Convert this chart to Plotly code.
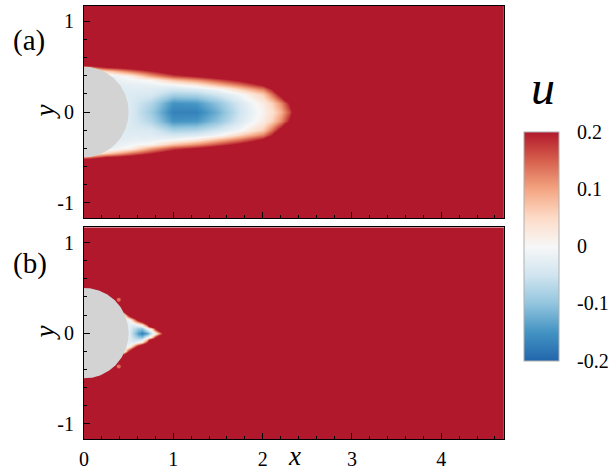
import numpy as np
import plotly.graph_objects as go

# ---------------------------------------------------------------
# Streamwise velocity u behind a cylinder (radius 0.5 at origin).
# Fields are stored as u-profiles (upper half, y >= 0) at x stations;
# the lower half is the mirror image of the upper one.
# ---------------------------------------------------------------
CYL_R = 0.5

# ---- case (a) ----
XA = [0.0, 0.25, 0.5, 0.75, 1.0, 1.25, 1.5, 1.75, 2.0, 2.1, 2.2, 2.3, 2.4, 2.6, 4.7]
YA_HALF = [0.0, 0.1, 0.2, 0.25, 0.3, 0.35, 0.4, 0.45, 0.5, 0.55, 0.6, 0.8, 1.2]
UA_PROFILES = [
    [-0.02, -0.02, -0.02, -0.02, -0.02, -0.02, -0.02, -0.02, 0.12, 0.32, 0.52, 1, 1],
    [-0.03, -0.03, -0.03, -0.03, -0.03, -0.03, -0.03, 0.057, 0.2, 0.34, 0.49, 1, 1],
    [-0.035, -0.035, -0.035, -0.03, -0.025, -0.01, 0.01, 0.13, 0.23, 0.34, 0.44, 1, 1],
    [-0.09, -0.075, -0.04, -0.03, -0.02, 0.005, 0.1, 0.19, 0.28, 0.37, 0.46, 1, 1],
    [-0.17, -0.15, -0.08, -0.045, -0.01, 0.07, 0.165, 0.25, 0.35, 0.44, 0.53, 1, 1],
    [-0.17, -0.145, -0.075, -0.035, 0.02, 0.11, 0.2, 0.29, 0.38, 0.47, 0.56, 1, 1],
    [-0.12, -0.1, -0.045, -0.005, 0.075, 0.16, 0.24, 0.33, 0.41, 0.49, 0.58, 1, 1],
    [-0.05, -0.04, -0.005, 0.06, 0.13, 0.21, 0.28, 0.36, 0.43, 0.5, 0.58, 1, 1],
    [0.01, 0.02, 0.065, 0.13, 0.2, 0.27, 0.33, 0.4, 0.47, 0.54, 0.6, 1, 1],
    [0.04, 0.06, 0.14, 0.2, 0.28, 0.36, 0.44, 0.52, 0.6, 0.68, 0.76, 1, 1],
    [0.09, 0.12, 0.23, 0.32, 0.41, 0.5, 0.58, 0.66, 0.74, 0.82, 0.9, 1, 1],
    [0.16, 0.2, 0.34, 0.45, 0.56, 0.67, 0.78, 0.89, 1, 1, 1, 1, 1],
    [0.28, 0.33, 0.5, 0.62, 0.73, 0.84, 0.95, 1, 1, 1, 1, 1, 1],
    [0.6, 0.65, 0.8, 0.9, 0.95, 1, 1, 1, 1, 1, 1, 1, 1],
    [1, 1, 1, 1, 1, 1, 1, 1, 1, 1, 1, 1, 1],
]

# ---- case (b) ----
XB = [0.0, 0.3, 0.4, 0.45, 0.5, 0.55, 0.6, 0.65, 0.7, 0.75, 0.8, 0.85, 0.9, 1.0, 4.7]
YB_HALF = [0.0, 0.05, 0.1, 0.15, 0.2, 0.25, 0.3, 0.4, 0.6, 1.2]
UB_PROFILES = [
    [1, 1, 1, 1, 1, 1, 1, 1, 1, 1],
    [1, 1, 1, 1, 1, 1, 1, 1, 1, 1],
    [-0.02, -0.02, -0.02, -0.02, 0.0, 0.5, 1, 1, 1, 1],
    [-0.02, -0.02, -0.02, -0.02, 0.0, 0.3, 0.7, 1, 1, 1],
    [-0.03, -0.03, -0.025, -0.01, 0.23, 0.5, 0.8, 1, 1, 1],
    [-0.08, -0.06, -0.03, 0.1, 0.35, 0.6, 1, 1, 1, 1],
    [-0.14, -0.09, 0.0, 0.25, 0.55, 0.9, 1, 1, 1, 1],
    [-0.17, -0.1, 0.05, 0.35, 0.7, 1, 1, 1, 1, 1],
    [-0.14, -0.01, 0.2, 0.5, 0.9, 1, 1, 1, 1, 1],
    [-0.06, 0.03, 0.6, 0.9, 1, 1, 1, 1, 1, 1],
    [0.0, 0.2, 0.6, 1, 1, 1, 1, 1, 1, 1],
    [0.12, 0.35, 0.8, 1, 1, 1, 1, 1, 1, 1],
    [0.25, 0.5, 0.9, 1, 1, 1, 1, 1, 1, 1],
    [1, 1, 1, 1, 1, 1, 1, 1, 1, 1],
    [1, 1, 1, 1, 1, 1, 1, 1, 1, 1],
]

# small separation spots on the cylinder surface in case (b)
SPOT_X = [0.39, 0.39]
SPOT_Y = [0.37, -0.37]
SPOT_U = [0.14, 0.14]

# ticks / colour levels
AXIS_TICKS = [-1, 0, 1, 2, 3, 4]
AXIS_TICKTEXT = ["-1", "0", "1", "2", "3", "4"]
CBAR_TICKS = [-0.2, -0.1, 0.0, 0.1, 0.2]
CBAR_TICKTEXT = ["-0.2", "-0.1", "0", "0.1", "0.2"]
U_MIN, U_MAX = -0.2, 0.2

RDBU = ["#2166ac", "#4393c3", "#92c5de", "#d1e5f0", "#f7f7f7",
        "#fddbc7", "#f4a582", "#d6604d", "#b2182b"]
COLORSCALE = [[i / (len(RDBU) - 1), c] for i, c in enumerate(RDBU)]

SERIF = "Liberation Serif"
W, H = 610, 471


def mirrored(y_half, profiles):
    """Full y grid and u table (rows = y) from upper-half profiles."""
    half = np.array(profiles, dtype=float).T
    yh = np.array(y_half, dtype=float)
    y = np.concatenate([-yh[:0:-1], yh])
    z = np.vstack([half[:0:-1], half])
    return y, z


ya, za = mirrored(YA_HALF, UA_PROFILES)
yb, zb = mirrored(YB_HALF, UB_PROFILES)

fig = go.Figure()

fig.add_trace(go.Heatmap(
    x=XA, y=ya, z=za, xaxis="x", yaxis="y",
    zmin=U_MIN, zmax=U_MAX, zsmooth="best", colorscale=COLORSCALE,
    showscale=False, hoverinfo="skip"))

fig.add_trace(go.Heatmap(
    x=XB, y=yb, z=zb, xaxis="x2", yaxis="y2",
    zmin=U_MIN, zmax=U_MAX, zsmooth="best", colorscale=COLORSCALE,
    hoverinfo="skip",
    colorbar=dict(
        x=526 / W, xanchor="left", xpad=0,
        y=1 - 246 / H, yanchor="middle", ypad=0,
        len=229, lenmode="pixels", thickness=35, thicknessmode="pixels",
        outlinewidth=1, outlinecolor="#b0b0b0",
        tickmode="array", tickvals=CBAR_TICKS, ticktext=CBAR_TICKTEXT,
        ticks="outside", ticklen=14, tickcolor="rgba(0,0,0,0)",
        tickfont=dict(family=SERIF, size=20, color="black"),
    )))

# cylinder body in both panels
theta = np.linspace(0, 2 * np.pi, 241)
for xr, yr in (("x", "y"), ("x2", "y2")):
    fig.add_trace(go.Scatter(
        x=CYL_R * np.cos(theta), y=CYL_R * np.sin(theta),
        xaxis=xr, yaxis=yr, mode="lines", fill="toself",
        fillcolor="#d3d3d3", line=dict(width=0, color="#d3d3d3"),
        hoverinfo="skip", showlegend=False))

fig.add_trace(go.Scatter(
    x=SPOT_X, y=SPOT_Y, xaxis="x2", yaxis="y2", mode="markers",
    marker=dict(size=4, symbol="circle", color=SPOT_U, colorscale=COLORSCALE,
                cmin=U_MIN, cmax=U_MAX, line=dict(width=0)),
    hoverinfo="skip", showlegend=False))

X_DOM = [80 / W, 505.5 / W]
common_axis = dict(
    showline=True, linecolor="black", linewidth=1, mirror=True,
    ticks="inside", ticklen=6, tickwidth=1, tickcolor="black",
    showgrid=False, zeroline=False,
    tickfont=dict(family=SERIF, size=20, color="black"),
    tickmode="array", tickvals=AXIS_TICKS, ticktext=AXIS_TICKTEXT,
    minor=dict(ticks="inside", ticklen=3, tickwidth=1, tickcolor="black",
               dtick=0.2, tick0=0, showgrid=False),
)

fig.update_layout(
    width=W, height=H, margin=dict(l=0, r=0, t=0, b=0),
    paper_bgcolor="white", plot_bgcolor="white", showlegend=False,
    font=dict(family=SERIF, color="black"),
    xaxis=dict(common_axis, domain=X_DOM, anchor="y", range=[0, 4.7],
               showticklabels=False),
    yaxis=dict(common_axis, domain=[1 - 218 / H, 1 - 6 / H], anchor="x",
               range=[-1.17, 1.17], ticklabelstandoff=5),
    xaxis2=dict(common_axis, domain=X_DOM, anchor="y2", range=[0, 4.7],
                ticklabelstandoff=2),
    yaxis2=dict(common_axis, domain=[1 - 439 / H, 1 - 227.3 / H], anchor="x2",
                range=[-1.17, 1.17], ticklabelstandoff=5),
)

ann_font = dict(family=SERIF, color="black")
fig.add_annotation(text="(a)", x=6 / W, y=1 - 41 / H, xref="paper", yref="paper",
                   xanchor="left", yanchor="middle", showarrow=False,
                   font=dict(ann_font, size=29))
fig.add_annotation(text="(b)", x=6 / W, y=1 - 263 / H, xref="paper", yref="paper",
                   xanchor="left", yanchor="middle", showarrow=False,
                   font=dict(ann_font, size=29))
for yc in (112, 333):
    fig.add_annotation(text="<i>y</i>", x=41 / W, y=1 - yc / H, xref="paper",
                       yref="paper", xanchor="center", yanchor="middle",
                       textangle=-90, showarrow=False, font=dict(ann_font, size=27))
fig.add_annotation(text="<i>x</i>", x=293 / W, y=1 - 456 / H, xref="paper",
                   yref="paper", xanchor="center", yanchor="middle",
                   showarrow=False, font=dict(ann_font, size=27))
fig.add_annotation(text="<i>u</i>", x=545 / W, y=1 - 88 / H, xref="paper",
                   yref="paper", xanchor="center", yanchor="middle",
                   showarrow=False, font=dict(ann_font, size=48))

fig.write_html("out.html")
